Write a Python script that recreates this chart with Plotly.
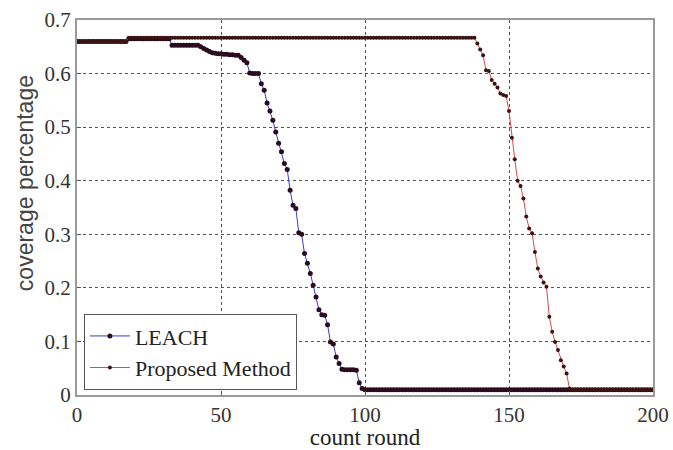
import plotly.graph_objects as go

rounds = list(range(0, 201))

leach = (
    [0.660] * 18 +            # rounds 0-17
    [0.665] * 15 +            # rounds 18-32
    [0.653] * 10 +            # rounds 33-42
    [0.650, 0.647, 0.644, 0.641, 0.639, 0.638, 0.637, 0.637, 0.636, 0.636,   # 43-52
     0.635, 0.635, 0.634, 0.634, 0.630, 0.625, 0.620, 0.601, 0.600, 0.600,   # 53-62
     0.600, 0.581, 0.569, 0.545, 0.530, 0.513, 0.491, 0.470, 0.454, 0.432,   # 63-72
     0.421, 0.382, 0.354, 0.348, 0.303, 0.300, 0.264, 0.246, 0.227, 0.205,   # 73-82
     0.183, 0.159, 0.150, 0.149, 0.131, 0.099, 0.095, 0.071, 0.059, 0.048,   # 83-92
     0.047, 0.047, 0.047, 0.047, 0.046, 0.023, 0.012] +                      # 93-99
    [0.010] * 101             # rounds 100-200
)

proposed = (
    [0.660] * 18 +            # rounds 0-17
    [0.667] * 121 +           # rounds 18-138
    [0.656, 0.645, 0.634, 0.606, 0.605, 0.588, 0.581, 0.574, 0.563, 0.560,   # 139-148
     0.558, 0.530, 0.480, 0.440, 0.400, 0.390, 0.367, 0.333, 0.311, 0.302,   # 149-158
     0.267, 0.236, 0.221, 0.210, 0.202, 0.146, 0.118, 0.099, 0.084, 0.065,   # 159-168
     0.053, 0.040, 0.012] +                                                  # 169-171
    [0.010] * 29              # rounds 172-200
)

x_ticks = [0, 50, 100, 150, 200]
y_ticks = [0, 0.1, 0.2, 0.3, 0.4, 0.5, 0.6, 0.7]
y_tick_text = ["0", "0.1", "0.2", "0.3", "0.4", "0.5", "0.6", "0.7"]

serif = "Liberation Serif, Times New Roman, serif"
sans = "Liberation Sans, Arial, sans-serif"

fig = go.Figure()
fig.add_trace(go.Scatter(
    x=rounds, y=leach, name="LEACH", mode="lines+markers",
    line=dict(color="#3c3cc8", width=1),
    marker=dict(color="#2a0c1c", size=5),
))
fig.add_trace(go.Scatter(
    x=rounds, y=proposed, name="Proposed Method", mode="lines+markers",
    line=dict(color="#e04848", width=1),
    marker=dict(color="#3a1414", size=4),
))

axis_common = dict(
    showline=True, linecolor="#9a9a9a", linewidth=2, mirror=True,
    showgrid=True, gridcolor="#555555", griddash="dot", gridwidth=1,
    ticks="inside", ticklen=4, tickcolor="#555555",
    zeroline=False, automargin=False,
    tickfont=dict(family=serif, size=21, color="#333333"),
)

fig.update_xaxes(range=[0, 200], tickvals=x_ticks, title_text="count round",
                 title_standoff=0,
                 title_font=dict(family=serif, size=23, color="#222222"),
                 **axis_common)
fig.update_yaxes(range=[0, 0.7], tickvals=y_ticks, ticktext=y_tick_text,
                 **axis_common)

fig.add_annotation(
    text="coverage percentage", textangle=-90,
    xref="paper", yref="paper", x=0, y=0.565, xshift=-52,
    xanchor="center", yanchor="middle", showarrow=False,
    font=dict(family=sans, size=23, color="#444444"),
)

fig.update_layout(
    width=673, height=450,
    margin=dict(l=77, r=20, t=20, b=55),
    plot_bgcolor="white", paper_bgcolor="white",
    legend=dict(
        x=0.012, y=0.013, xanchor="left", yanchor="bottom",
        bgcolor="white", bordercolor="#555555", borderwidth=1,
        font=dict(family=serif, size=22, color="#222222"),
        tracegroupgap=0, itemwidth=40,
    ),
    showlegend=True,
)

fig.write_html("out.html")
